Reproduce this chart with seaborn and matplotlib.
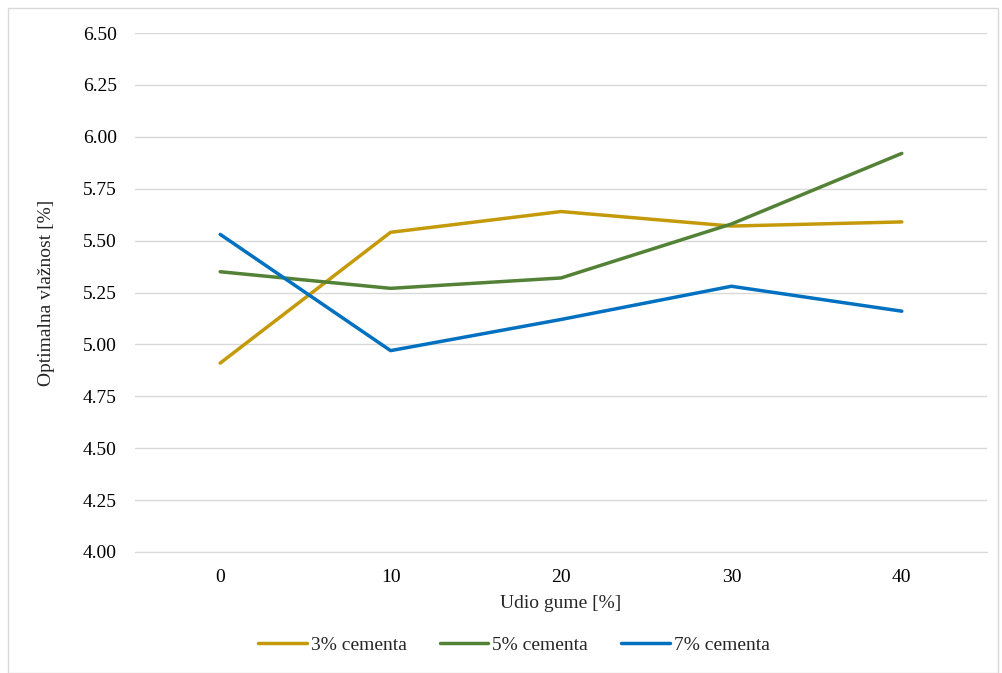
import seaborn as sns
import matplotlib.pyplot as plt
import pandas as pd
from matplotlib.patches import Rectangle

# data
udio_gume = [0, 10, 20, 30, 40]
cement_3 = [4.91, 5.54, 5.64, 5.57, 5.59]
cement_5 = [5.35, 5.27, 5.32, 5.58, 5.92]
cement_7 = [5.53, 4.97, 5.12, 5.28, 5.16]
series_names = ["3% cementa", "5% cementa", "7% cementa"]
colors = ["#C59A0A", "#538135", "#0070C0"]

df = pd.DataFrame({"x": udio_gume * 3,
                   "y": cement_3 + cement_5 + cement_7,
                   "serija": [n for n in series_names for _ in udio_gume]})

sns.set_style("white")
plt.rcParams["font.family"] = ["Liberation Serif", "DejaVu Serif"]

fig = plt.figure(figsize=(10.02, 6.73), dpi=100)
ax = fig.add_axes([135/1002, 1-552/673, (987-135)/1002, (552-33)/673])

sns.lineplot(data=df, x="x", y="y", hue="serija", palette=colors, linewidth=2.5, ax=ax)

ax.set_xlim(-5, 45)
ax.set_ylim(4.0, 6.5)
ax.set_xticks(udio_gume)
ax.set_yticks([4.0 + 0.25*i for i in range(11)])
ax.set_yticklabels(["%.2f" % (4.0 + 0.25*i) for i in range(11)])
ax.yaxis.grid(True, color="#D9D9D9", linewidth=1)
ax.set_axisbelow(True)
for s in ["top", "right", "left"]:
    ax.spines[s].set_visible(False)
ax.spines["bottom"].set_color("#D9D9D9")
ax.tick_params(axis="both", length=0, labelsize=14, colors="black")
ax.tick_params(axis="y", pad=13)
ax.tick_params(axis="x", pad=12)
ax.set_xlabel("Udio gume [%]", fontsize=14, labelpad=7)
ax.set_ylabel("Optimalna vlažnost [%]", fontsize=14, labelpad=20)

ax.legend_.remove()
handles, labels = ax.get_legend_handles_labels()
fig.legend(handles, labels, loc="center", bbox_to_anchor=(514/1002, 1-645/673), ncol=3,
           frameon=False, fontsize=14, handlelength=2.5, columnspacing=1.7, handletextpad=0.2)

fig.patches.append(Rectangle((8/1002, 0), 990/1002, 1-8/673, transform=fig.transFigure,
                             fill=False, edgecolor="#D9D9D9", linewidth=1))

fig.savefig("out.png", dpi=100)
